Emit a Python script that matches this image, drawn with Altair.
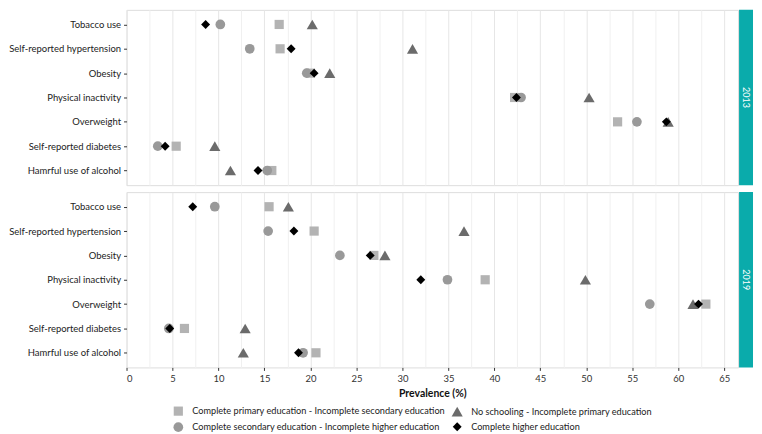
import altair as alt
import pandas as pd

categories = ["Tobacco use", "Self-reported hypertension", "Obesity", "Physical inactivity",
              "Overweight", "Self-reported diabetes", "Hamrful use of alcohol"]
# drawing order
groups = ["Complete primary education - Incomplete secondary education",
          "No schooling - Incomplete primary education",
          "Complete secondary education - Incomplete higher education",
          "Complete higher education"]
shapes = ["square", "triangle-up", "circle", "diamond"]
colors = ["#b3b3b3", "#6b6b6b", "#999999", "#000000"]
sizes = [85, 125, 95, 80]
# legend order
legend_order = [0, 2, 1, 3]
years = ["2013", "2019"]

v2013_primary = [16.6, 16.7, 20.0, 42.2, 53.4, 5.4, 15.8]
v2013_none = [20.2, 31.1, 22.1, 50.3, 58.9, 9.6, 11.3]
v2013_secondary = [10.2, 13.4, 19.6, 42.9, 55.5, 3.4, 15.3]
v2013_higher = [8.6, 17.9, 20.4, 42.4, 58.7, 4.2, 14.3]

v2019_primary = [15.5, 20.4, 26.9, 39.0, 63.0, 6.3, 20.6]
v2019_none = [17.6, 36.7, 28.1, 49.9, 61.6, 12.9, 12.7]
v2019_secondary = [9.6, 15.4, 23.2, 34.9, 56.9, 4.6, 19.2]
v2019_higher = [7.2, 18.2, 26.5, 32.0, 62.2, 4.7, 18.7]

values = {
    "2013": [v2013_primary, v2013_none, v2013_secondary, v2013_higher],
    "2019": [v2019_primary, v2019_none, v2019_secondary, v2019_higher],
}

rows = []
for yr in years:
    for g, vals in zip(groups, values[yr]):
        for c, v in zip(categories, vals):
            rows.append({"year": yr, "group": g, "category": c, "value": v})
df = pd.DataFrame(rows)

W = 614
H = 176
STRIP = 14
FONT = "Lato"

dom = [groups[i] for i in legend_order]
color_scale = alt.Scale(domain=dom, range=[colors[i] for i in legend_order])
shape_scale = alt.Scale(domain=dom, range=[shapes[i] for i in legend_order])
size_scale = alt.Scale(type="ordinal", domain=dom, range=[sizes[i] for i in legend_order])

tick_values = [i * 2.5 for i in range(27)]
grid_cond = {"condition": {"test": "datum.value % 5 !== 0", "value": "#f0f0f0"}, "value": "#e6e6e6"}


def panel(yr, bottom):
    if bottom:
        xaxis = alt.Axis(values=tick_values, title="Prevalence (%)",
                         labelExpr="datum.value % 5 === 0 ? datum.label : ''",
                         tickColor={"condition": {"test": "datum.value % 5 !== 0", "value": "transparent"},
                                    "value": "#333333"},
                         gridColor=grid_cond,
                         tickSize=3, domain=False, labelFontSize=9.5, labelColor="#333333",
                         titleFontSize=10.5, titleFontWeight="bold", titleColor="#111111",
                         labelPadding=3, titlePadding=6)
    else:
        xaxis = alt.Axis(values=tick_values, labels=False, ticks=False, domain=False, title=None,
                         gridColor=grid_cond)
    d = df[df["year"] == yr]
    pts = alt.Chart(d).mark_point(filled=True, opacity=1).encode(
        x=alt.X("value:Q", scale=alt.Scale(domain=[0, 66.5], nice=False, zero=False), axis=xaxis),
        y=alt.Y("category:N", sort=categories,
                scale=alt.Scale(type="point", padding=0.6),
                axis=alt.Axis(title=None, domain=False, tickSize=3, tickColor="#333333",
                              labelFontSize=9.5, labelColor="#222222", gridColor="#e6e6e6",
                              labelPadding=3)),
        color=alt.Color("group:N", scale=color_scale, title=None,
                        legend=alt.Legend(orient="none", legendX=46, legendY=397, columns=2,
                                          columnPadding=6, rowPadding=5, labelFontSize=9.2,
                                          labelOffset=8,
                                          labelColor="#222222", labelLimit=400, symbolStrokeWidth=0)),
        shape=alt.Shape("group:N", scale=shape_scale, title=None),
        size=alt.Size("group:N", scale=size_scale, title=None),
    )
    lab = pd.DataFrame({"year": [yr]})
    strip = alt.Chart(lab).mark_rect(color="#0aabab").encode(
        x=alt.value(W + 1), x2=alt.value(W + 1 + STRIP), y=alt.value(0), y2=alt.value(H))
    txt = alt.Chart(lab).mark_text(angle=90, color="white", fontSize=9, font=FONT).encode(
        x=alt.value(W + 1 + STRIP / 2), y=alt.value(H / 2), text="year:N")
    return alt.layer(pts, strip, txt).properties(width=W, height=H)


chart = alt.vconcat(panel("2013", False), panel("2019", True), spacing=5).properties(
    padding={"left": 0, "top": 0, "right": 0, "bottom": 0}
).configure_view(stroke="#6ad2d2", strokeWidth=1.5).configure(
    font=FONT
).configure_axis(labelFont=FONT, titleFont=FONT).configure_legend(labelFont=FONT)

chart.save("out.html", embed_options={"renderer": "svg", "actions": False})
